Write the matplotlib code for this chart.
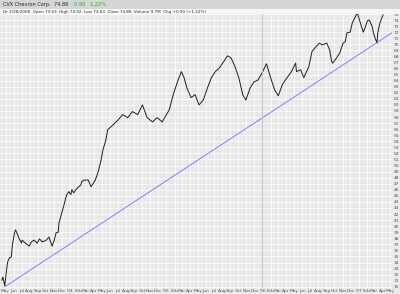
import matplotlib
matplotlib.use("Agg")
import matplotlib.pyplot as plt
import pandas as pd

# price path (approximate closes)
dates = ["2003-04-17", "2003-04-21", "2003-04-28", "2003-05-05", "2003-05-09", "2003-05-16",
         "2003-05-23", "2003-05-27", "2003-06-04", "2003-06-08", "2003-06-15", "2003-06-22",
         "2003-07-01", "2003-07-03", "2003-07-18", "2003-07-30", "2003-08-07", "2003-08-18",
         "2003-08-29", "2003-09-07", "2003-09-18", "2003-10-03", "2003-10-13", "2003-10-21",
         "2003-10-25", "2003-11-02", "2003-11-09", "2003-11-17", "2003-11-20", "2003-12-01",
         "2003-12-09", "2003-12-16", "2003-12-20", "2003-12-28",
         "2004-01-04", "2004-01-08", "2004-01-15", "2004-01-23", "2004-02-03", "2004-02-11",
         "2004-02-14", "2004-02-22", "2004-03-10", "2004-03-21", "2004-04-06", "2004-04-17",
         "2004-04-28", "2004-05-05", "2004-05-16", "2004-05-23", "2004-06-12", "2004-07-01",
         "2004-07-19", "2004-08-07", "2004-08-25", "2004-09-14", "2004-10-02", "2004-10-20",
         "2004-11-09", "2004-11-27", "2004-12-16",
         "2005-01-12", "2005-01-27", "2005-02-12", "2005-02-27", "2005-03-09", "2005-03-20",
         "2005-04-05", "2005-04-20", "2005-05-05", "2005-05-21", "2005-06-06", "2005-06-21",
         "2005-07-06", "2005-07-21", "2005-08-06", "2005-08-21", "2005-09-03", "2005-09-18",
         "2005-10-03", "2005-10-18", "2005-10-30", "2005-11-15", "2005-11-30", "2005-12-15",
         "2006-01-02", "2006-01-16", "2006-02-01", "2006-02-16", "2006-03-02", "2006-03-17",
         "2006-03-29", "2006-04-21", "2006-05-07", "2006-05-10", "2006-05-26", "2006-06-07",
         "2006-06-26", "2006-07-08", "2006-07-23", "2006-08-05", "2006-08-16", "2006-09-02",
         "2006-09-13", "2006-09-21", "2006-09-25", "2006-10-10", "2006-10-22", "2006-11-03",
         "2006-11-11", "2006-11-18", "2006-11-30", "2006-12-08", "2006-12-19", "2006-12-27",
         "2007-01-02", "2007-01-08", "2007-01-16", "2007-01-19", "2007-01-27", "2007-02-04",
         "2007-02-11", "2007-02-22", "2007-02-26", "2007-03-04", "2007-03-12", "2007-03-15",
         "2007-03-23", "2007-04-01", "2007-04-04"]
prices = [31.1, 31.6, 30.15, 32.8, 34.1, 34.8,
          34.9, 36.9, 38.9, 39.4, 38.7, 37.9,
          37.2, 37.7, 37.1, 36.7, 37.4, 37.7,
          37.2, 37.9, 37.4, 37.7, 38.2, 37.2,
          36.7, 37.7, 38.9, 39.0, 40.5, 42.2,
          43.5, 44.7, 45.2, 45.7,
          45.2, 46.0, 45.5, 46.0, 46.5, 46.8,
          47.3, 47.6, 47.6, 46.5, 47.6, 49.0,
          50.9, 52.6, 54.2, 55.9, 56.7, 57.5,
          58.4, 57.9, 58.9, 58.4, 60.0, 57.9,
          57.2, 57.9, 57.2,
          59.2, 61.7, 63.8, 65.5, 64.5, 62.8,
          61.2, 61.7, 60.0, 60.8, 62.8, 64.5,
          65.5, 66.1, 67.1, 68.1, 67.8, 66.4,
          64.5, 61.7, 60.8, 62.8, 63.8, 64.1,
          65.5, 66.8, 64.5, 62.5, 61.5, 63.3,
          64.1, 65.5, 66.9, 65.5, 65.8, 64.5,
          66.3, 68.8, 69.6, 70.2, 69.9, 70.2,
          69.1, 67.1, 66.9, 67.8, 68.6, 70.2,
          70.4, 71.9, 72.0, 73.5, 74.5, 75.2,
          74.4, 73.5, 72.4, 72.0, 72.9, 73.9,
          74.0, 72.9, 72.0, 71.1, 70.2, 71.9,
          73.5, 74.5, 74.86]

# trend line end points
trend_dates = ["2003-04-28", "2007-05-08"]
trend_prices = [30.0, 71.9]

y_labels = list(range(30, 76))
month_names = ["Jan", "Feb", "Mar", "Apr", "May", "Jun", "Jul", "Aug", "Sep", "Oct", "Nov", "Dec"]

dates = pd.to_datetime(dates)
trend_dates = pd.to_datetime(trend_dates)

fig = plt.figure(figsize=(4, 2.94), dpi=100)
fig.patch.set_facecolor("#ebebeb")

# header strips
fig.patches.append(plt.Rectangle((0, 1 - 9 / 294), 1, 9 / 294, transform=fig.transFigure,
                                 facecolor="#d6d6d6", edgecolor="none", zorder=0))
fig.patches.append(plt.Rectangle((0, 1 - 14 / 294), 1, 5 / 294, transform=fig.transFigure,
                                 facecolor="#f5f5f5", edgecolor="none", zorder=0))
fig.text(0.008, 1 - 4.5 / 294, "CVX Chevron Corp.  74.86", fontsize=3.6, va="center", color="#222222")
fig.text(0.185, 1 - 4.5 / 294, "0.90   1.22%", fontsize=3.6, va="center", color="#22aa22")
fig.text(0.008, 1 - 11.5 / 294,
         "Dr 2/28/2006  Open 73.63  High 74.92  Low 73.63  Close 74.86  Volume 9.7M  Chg +0.90 (+1.22%)",
         fontsize=3.0, va="center", color="#333333")

ax = fig.add_axes([0, 6 / 294, 392 / 400, 274 / 294])
ax.set_facecolor("#e8e8e8")

ax.plot(dates, prices, color="#1e1e1e", lw=0.7)
ax.plot(trend_dates, trend_prices, color="#8a7cf5", lw=0.7)
ax.axvline(pd.Timestamp("2006-01-01"), color="#bcbcbc", lw=0.6)

ax.set_xlim(pd.Timestamp("2003-04-10"), pd.Timestamp("2007-05-08"))
ax.set_ylim(29.8, 75.0)

ticks = pd.date_range("2003-05-01", "2007-05-01", freq="MS")
ax.set_xticks(ticks)
ax.set_xticklabels(["'" + t.strftime("%y") if t.month == 1 else month_names[t.month - 1] for t in ticks])
ax.yaxis.tick_right()
ax.set_yticks(y_labels)
ax.set_yticklabels([str(v) for v in y_labels])
ax.tick_params(axis="both", length=0, labelsize=3.2, colors="#555555")
ax.tick_params(axis="x", pad=0.5)
ax.tick_params(axis="y", pad=1)
ax.grid(True, color="white", lw=0.5)
ax.set_axisbelow(True)
for s in ax.spines.values():
    s.set_visible(False)

fig.savefig("out.png", dpi=100, facecolor=fig.get_facecolor())
